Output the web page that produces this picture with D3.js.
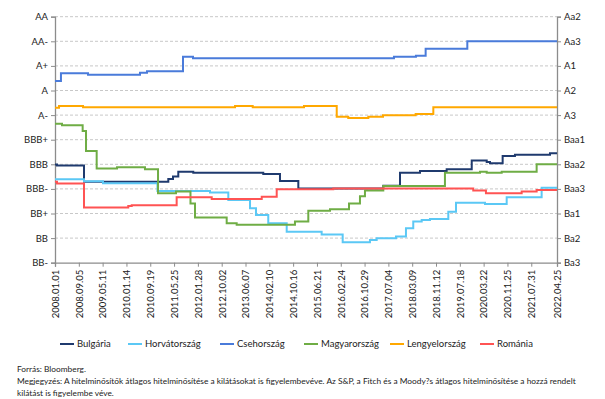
<!DOCTYPE html>
<html><head><meta charset="utf-8">
<script src="https://cdn.jsdelivr.net/npm/d3@7"></script>
<style>body{margin:0;background:#fff} text{font-family:Lato,"Open Sans",sans-serif;fill:#222}</style>
</head><body><svg id="c" width="605" height="399"></svg>
<script>
const leftLabels = ["BB-","BB","BB+","BBB-","BBB","BBB+","A-","A","A+","AA-","AA"];
const rightLabels = ["Ba3","Ba2","Ba1","Baa3","Baa2","Baa1","A3","A2","A1","Aa3","Aa2"];
const tickLabels = ["2008.01.01","2008.09.05","2009.05.11","2010.01.14","2010.09.19","2011.05.25","2012.01.28","2012.10.02","2013.06.07","2014.02.10","2014.10.16","2015.06.21","2016.02.24","2016.10.29","2017.07.04","2018.03.09","2018.11.12","2019.07.18","2020.03.22","2020.11.25","2021.07.31","2022.04.25"];
const countries = ["Bulgária","Horvátország","Csehország","Magyarország","Lengyelország","Románia"];
const colors = ["#1F3A6E","#5BC8F5","#4A7BDA","#6FAD45","#FFA800","#FF5353"];

const bulgariaDates = ["2008-01-01","2008-01-22","2008-10-29","2011-03-26","2011-05-14","2011-07-08","2011-12-11","2013-12-09","2014-06-01","2014-12-09","2017-05-12","2017-11-02","2018-05-29","2019-03-03","2019-11-19","2020-04-23","2020-05-27","2020-10-06","2021-02-11","2022-02-11"];
const bulgariaValues = [3.99,3.95,3.29,3.40,3.50,3.70,3.66,3.61,3.32,3.02,3.13,3.66,3.73,3.80,4.15,4.09,4.04,4.34,4.39,4.45];

const horvatDates = ["2008-01-01","2008-10-29","2009-05-15","2010-12-03","2012-06-02","2012-12-10","2013-07-24","2013-09-24","2014-01-30","2014-08-10","2015-08-09","2016-03-15","2016-12-24","2017-03-04","2017-09-21","2018-01-03","2018-03-20","2018-06-16","2018-09-10","2019-03-20","2019-06-08","2020-04-05","2020-11-17","2021-11-16"];
const horvatValues = [3.39,3.31,3.23,2.91,2.85,2.55,2.21,1.94,1.60,1.26,1.15,0.83,0.92,0.99,1.06,1.40,1.67,1.74,1.78,2.07,2.44,2.39,2.66,3.05];

const csehDates = ["2008-01-01","2008-03-03","2008-12-10","2010-06-04","2010-08-16","2011-08-26","2011-12-08","2017-08-31","2018-04-17","2018-07-27","2019-10-04"];
const csehValues = [7.39,7.70,7.64,7.72,7.78,8.37,8.31,8.37,8.41,8.70,9.0];

const magyarDates = ["2008-01-01","2008-03-14","2008-10-15","2008-11-19","2009-03-10","2009-10-08","2010-07-26","2010-12-09","2011-06-14","2011-11-12","2011-12-29","2012-11-23","2013-03-07","2014-11-04","2015-03-23","2015-11-04","2016-05-20","2016-09-11","2016-11-02","2017-05-12","2019-02-13","2020-02-13","2020-04-23","2020-09-26","2021-09-25"];
const magyarValues = [5.65,5.59,5.35,4.54,3.83,3.88,3.80,2.82,2.89,2.41,1.84,1.60,1.54,1.67,2.11,2.17,2.41,2.70,2.93,3.12,3.66,3.70,3.66,3.70,4.0];

const lengyelDates = ["2008-01-01","2008-02-12","2008-10-19","2013-02-18","2013-08-21","2015-02-06","2016-01-13","2016-05-12","2016-12-07","2017-05-09","2018-04-14","2018-10-15"];
const lengyelValues = [6.30,6.37,6.32,6.37,6.32,6.37,5.93,5.88,5.93,5.99,6.04,6.32];

const romaniaDates = ["2008-01-01","2008-01-22","2008-10-29","2010-02-02","2010-03-10","2011-06-21","2012-06-20","2013-11-23","2014-04-28","2015-12-08","2019-12-05","2020-04-15","2021-04-22","2021-09-25"];
const romaniaValues = [3.29,3.22,2.24,2.30,2.34,2.66,2.59,2.68,2.99,3.02,2.93,2.82,2.89,2.96];

const footSource = "Forrás: Bloomberg.";
const footNote1 = "Megjegyzés: A hitelminősítők átlagos hitelminősítése a kilátásokat is figyelembevéve. Az S&P, a Fitch és a Moody?s átlagos hitelminősítése a hozzá rendelt";
const footNote2 = "kilátást is figyelembe véve.";

const svg = d3.select("#c");
const pDate = d3.utcParse("%Y-%m-%d");
const pTick = d3.utcParse("%Y.%m.%d");
const tickDates = tickLabels.map(pTick);
const x0 = 55, x1 = 557, y0 = 16.7, y1 = 262.7;
const x = d3.scaleUtc().domain([tickDates[0], tickDates[tickDates.length-1]]).range([x0, x1]);
const y = d3.scaleLinear().domain([0, 10]).range([y1, y0]);
const levels = d3.range(0, 11);

// gridlines
svg.append("g").selectAll("line").data(levels.filter(d => d > 0)).join("line")
  .attr("x1", x0).attr("x2", x1).attr("y1", d => y(d)).attr("y2", d => y(d))
  .attr("stroke", "#c8c8c8").attr("stroke-width", 1).attr("stroke-dasharray", "3,2");

const axisColor = "#8c8c8c";
const gl = svg.append("g").attr("transform", `translate(${x0},0)`)
  .call(d3.axisLeft(y).tickValues(levels).tickFormat(d => leftLabels[d]).tickSize(4).tickPadding(3));
const gr = svg.append("g").attr("transform", `translate(${x1},0)`)
  .call(d3.axisRight(y).tickValues(levels).tickFormat(d => rightLabels[d]).tickSize(4).tickPadding(3));
const gb = svg.append("g").attr("transform", `translate(0,${y1})`)
  .call(d3.axisBottom(x).tickValues(tickDates).tickFormat((d,i) => tickLabels[i]).tickSize(4));
gb.selectAll("text").attr("transform", "rotate(-90)").attr("text-anchor", "end")
  .attr("x", -7).attr("y", 0).attr("dy", "0.35em");
[gl, gr, gb].forEach(g => {
  g.select(".domain").attr("stroke", axisColor).attr("stroke-width", 1.3);
  g.selectAll(".tick line").attr("stroke", axisColor);
  g.selectAll("text").attr("font-size", 9.5).attr("fill", "#222").attr("font-family", "Lato, 'Open Sans', sans-serif");
});

const seriesDates = [bulgariaDates, horvatDates, csehDates, magyarDates, lengyelDates, romaniaDates];
const seriesValues = [bulgariaValues, horvatValues, csehValues, magyarValues, lengyelValues, romaniaValues];
const endDate = tickDates[tickDates.length-1];
const line = d3.line().x(d => x(d[0])).y(d => y(d[1])).curve(d3.curveStepAfter);
seriesDates.forEach((ds, i) => {
  const pts = ds.map((d, j) => [pDate(d), seriesValues[i][j]]);
  pts.push([endDate, seriesValues[i][seriesValues[i].length-1]]);
  svg.append("path").datum(pts).attr("d", line).attr("fill", "none")
    .attr("stroke", colors[i]).attr("stroke-width", 2);
});

// legend
const legX = [60, 128, 220, 304, 390, 480];
const lg = svg.append("g");
countries.forEach((c, i) => {
  lg.append("line").attr("x1", legX[i]).attr("x2", legX[i] + 14).attr("y1", 344).attr("y2", 344)
    .attr("stroke", colors[i]).attr("stroke-width", 2);
  lg.append("text").attr("x", legX[i] + 17).attr("y", 344).attr("dy", "0.35em")
    .attr("font-size", 9.5).text(c);
});

// footnotes: size the long line so it ends where the reference's does
const fn1 = svg.append("text").attr("x", 17).attr("y", 384).attr("font-size", 10).text(footNote1);
const w10 = fn1.node().getComputedTextLength();
const fs = Math.min(9, 10 * 560 / w10);
fn1.attr("font-size", fs);
svg.append("text").attr("x", 17).attr("y", 372).attr("font-size", fs).text(footSource);
svg.append("text").attr("x", 17).attr("y", 396).attr("font-size", fs).text(footNote2);
</script></body></html>
